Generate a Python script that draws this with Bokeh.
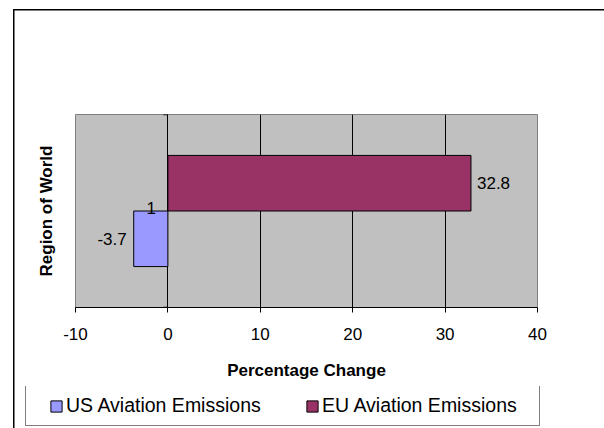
from bokeh.plotting import figure
from bokeh.models import Range1d, FixedTicker, Legend, LegendItem
from bokeh.embed import file_html
from bokeh.resources import INLINE
from bokeh.core.properties import value

# ---- data ----
series_names = ["US Aviation Emissions", "EU Aviation Emissions"]
series_values = [-3.7, 32.8]
series_colors = ["#9999FF", "#993366"]
category_labels = ["1"]
x_ticks = [-10, 0, 10, 20, 30, 40]
x_title = "Percentage Change"
y_title = "Region of World"

FONT = "Liberation Sans"
W, H = 604, 428
H1 = 386                      # main chart part; legend strip below
FL, FR, FT, FB = 75, 537, 114, 307

p = figure(width=W, height=H1, output_backend="svg", toolbar_location=None,
           x_range=Range1d(x_ticks[0], x_ticks[-1]), y_range=Range1d(0, 1),
           min_border_left=FL, min_border_right=W - FR,
           min_border_top=FT, min_border_bottom=H1 - FB)
p.background_fill_color = "#C0C0C0"
p.border_fill_alpha = 0
p.outline_line_color = "#808080"
p.outline_line_width = 1
p.styles = {
    "background": "linear-gradient(#000,#000) 13px 9px / 591px 1.5px no-repeat, "
                  "linear-gradient(#000,#000) 13px 9px / 1.5px 400px no-repeat, #ffffff"
}

cat_center = 0.5
bar_h = 0.288
ys = [cat_center - bar_h / 2, cat_center + bar_h / 2]

for name, v, c, y in zip(series_names, series_values, series_colors, ys):
    p.hbar(y=[y], left=[0], right=[v], height=bar_h,
           fill_color=c, line_color="black", line_width=1)

for v, y in zip(series_values, ys):
    pos = v > 0
    p.text(x=[v], y=[y], text=[f"{v:g}"], x_offset=6 if pos else -7,
           text_align="left" if pos else "right", text_baseline="middle",
           text_font=value(FONT), text_font_size="17px", text_color="black")

# category label and category-axis ticks at x = 0
p.text(x=[0], y=[cat_center], text=category_labels, x_offset=-12, y_offset=-3,
       text_align="right", text_baseline="middle",
       text_font=value(FONT), text_font_size="17px", text_color="black")
p.segment(x0=[-0.5, -0.5], x1=[0, 0], y0=[0, 1], y1=[0, 1],
          line_color="black", line_width=1.5)

# x axis
p.xaxis.ticker = FixedTicker(ticks=x_ticks)
p.xaxis.major_label_overrides = {t: str(t) for t in x_ticks}
p.xaxis.axis_label = x_title
p.xaxis.axis_label_text_font = FONT
p.xaxis.axis_label_text_font_style = "bold"
p.xaxis.axis_label_text_font_size = "17px"
p.xaxis.axis_label_text_color = "black"
p.xaxis.axis_label_standoff = 18
p.xaxis.major_label_text_font = FONT
p.xaxis.major_label_text_font_size = "17px"
p.xaxis.major_label_text_color = "black"
p.xaxis.major_label_standoff = 15
p.xaxis.major_tick_out = 5
p.xaxis.major_tick_in = 0
p.xaxis.minor_tick_line_color = None
p.xaxis.axis_line_color = "black"
p.xaxis.major_tick_line_color = "black"

# y axis (title only)
p.yaxis.ticker = FixedTicker(ticks=[])
p.yaxis.axis_label = y_title
p.yaxis.axis_label_text_font = FONT
p.yaxis.axis_label_text_font_style = "bold"
p.yaxis.axis_label_text_font_size = "17px"
p.yaxis.axis_label_text_color = "black"
p.yaxis.axis_label_standoff = 20
p.yaxis.axis_line_color = None
p.yaxis.major_tick_line_color = None
p.yaxis.minor_tick_line_color = None

p.xgrid.ticker = FixedTicker(ticks=x_ticks[1:-1])
p.xgrid.grid_line_color = "black"
p.ygrid.visible = False

# ---- legend strip (separate root so its frame spans the full width) ----
p2 = figure(width=W, height=H - H1, output_backend="svg", toolbar_location=None,
            x_range=Range1d(x_ticks[0], x_ticks[-1]), y_range=Range1d(2, 3),
            x_axis_location=None, y_axis_location=None,
            min_border=0, min_border_left=0, min_border_right=0,
            min_border_top=0, min_border_bottom=0)
p2.outline_line_color = None
p2.border_fill_alpha = 0
p2.background_fill_alpha = 0
p2.xgrid.visible = False
p2.ygrid.visible = False
p2.styles = {
    "background": "linear-gradient(#000,#000) 13px 0px / 1.5px 60px no-repeat, #ffffff"
}

# same bars, outside this strip's visible range: they only feed the legend
leg_renderers = [p2.hbar(y=[y], left=[0], right=[v], height=bar_h, fill_color=c,
                         line_color="black", line_width=1)
                 for v, c, y in zip(series_values, series_colors, ys)]

legend = Legend(items=[LegendItem(label=n, renderers=[r]) for n, r in zip(series_names, leg_renderers)],
                location=(25, 2), orientation="horizontal",
                title=" ", title_location="left", title_text_font_size="1px", title_standoff=15,
                border_line_color="black", border_line_width=1,
                background_fill_color="white", background_fill_alpha=1,
                padding=7, margin=0, spacing=29,
                glyph_width=14, glyph_height=14, label_standoff=3,
                label_width=210, label_height=25,
                label_text_font=FONT, label_text_font_size="19.5px", label_text_color="black")
p2.add_layout(legend)

open("out.html", "w").write(file_html([p, p2], INLINE))
